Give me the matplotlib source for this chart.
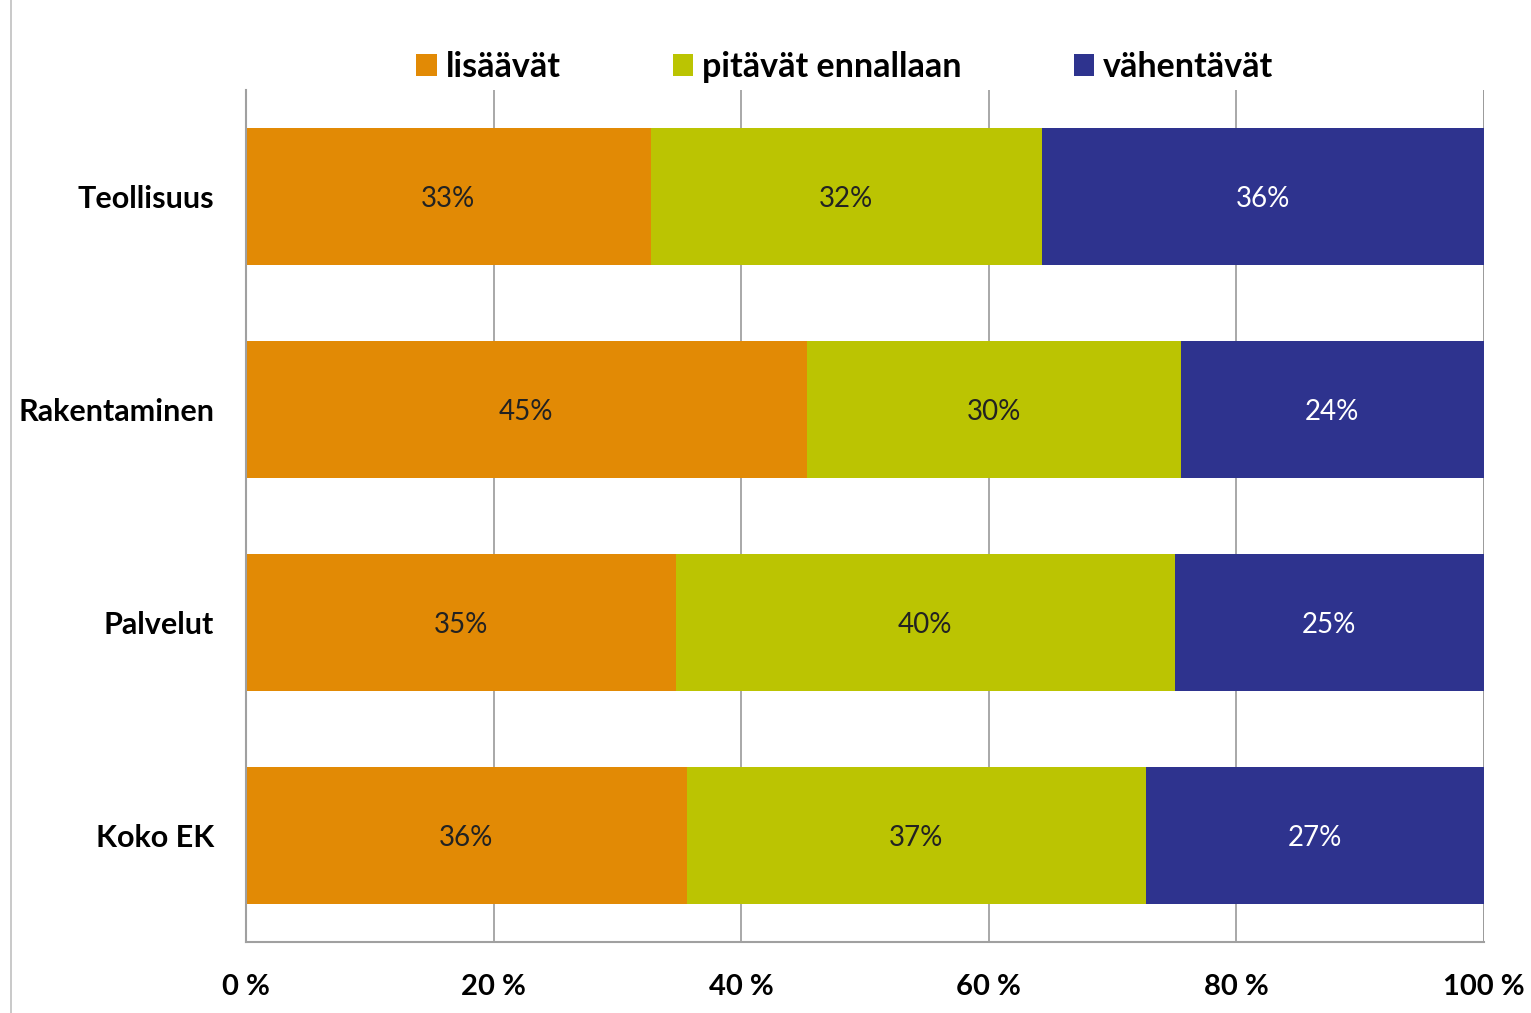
import matplotlib
matplotlib.use('Agg')
import matplotlib.pyplot as plt
from matplotlib.lines import Line2D
import numpy

categories = ['Teollisuus', 'Rakentaminen', 'Palvelut', 'Koko EK']
series_names = ['lisäävät', 'pitävät ennallaan', 'vähentävät']
lisaavat = [32.7, 45.3, 34.7, 35.6]
pitavat = [31.6, 30.2, 40.3, 37.1]
vahentavat = [35.7, 24.5, 25.0, 27.3]
value_labels = [['33%', '45%', '35%', '36%'],
                ['32%', '30%', '40%', '37%'],
                ['36%', '24%', '25%', '27%']]
x_ticks = [0, 20, 40, 60, 80, 100]
x_tick_labels = ['0 %', '20 %', '40 %', '60 %', '80 %', '100 %']

colors = ['#E28A05', '#BBC402', '#2E338E']
text_colors = ['#222222', '#222222', 'white']

plt.rcParams['font.family'] = ['Lato', 'DejaVu Sans']

fig = plt.figure(figsize=(15.31, 10.13), dpi=100)
ax = fig.add_axes([246 / 1531, 1 - 942 / 1013, 1238 / 1531, 852 / 1013])

positions = numpy.arange(len(categories))
left = numpy.zeros(len(categories))
handles = []
for i, values in enumerate([lisaavat, pitavat, vahentavat]):
    bars = ax.barh(positions, values, left=left, height=0.64, color=colors[i], zorder=2)
    for j, bar in enumerate(bars):
        ax.text(bar.get_x() + bar.get_width() / 2, bar.get_y() + bar.get_height() / 2 + 0.01,
                value_labels[i][j], ha='center', va='center', fontsize=20,
                color=text_colors[i], zorder=3)
    left = left + numpy.array(values)
    handles.append(bars)

ax.set_xlim(0, 100)
ax.set_ylim(len(categories) - 0.5, -0.5)
ax.set_xticks(x_ticks)
ax.set_xticklabels(x_tick_labels, fontsize=21, fontweight='bold')
ax.set_yticks(positions)
ax.set_yticklabels(categories, fontsize=22, fontweight='bold')
ax.tick_params(axis='both', length=0)
ax.tick_params(axis='x', pad=23)
ax.tick_params(axis='y', pad=23)

ax.grid(axis='x', color='#9A9A9A', linewidth=1.2, zorder=1)
ax.axvline(100, color='#9A9A9A', linewidth=1.2, zorder=1)
for side in ['top', 'right']:
    ax.spines[side].set_visible(False)
for side in ['left', 'bottom']:
    ax.spines[side].set_color('#A0A0A0')
    ax.spines[side].set_linewidth(1.5)

fig.legend(handles, series_names, loc='center', bbox_to_anchor=(845 / 1531, 1 - 67 / 1013),
           ncol=3, frameon=False, prop={'size': 24.5, 'weight': 'bold'},
           handlelength=0.6, handleheight=0.6, handletextpad=0.26, columnspacing=3.3)

# thin border line at the left edge
fig.add_artist(Line2D([10.5 / 1531, 10.5 / 1531], [0, 1], color='#C0C0C0', linewidth=1.2))

fig.savefig('out.png', dpi=100)
